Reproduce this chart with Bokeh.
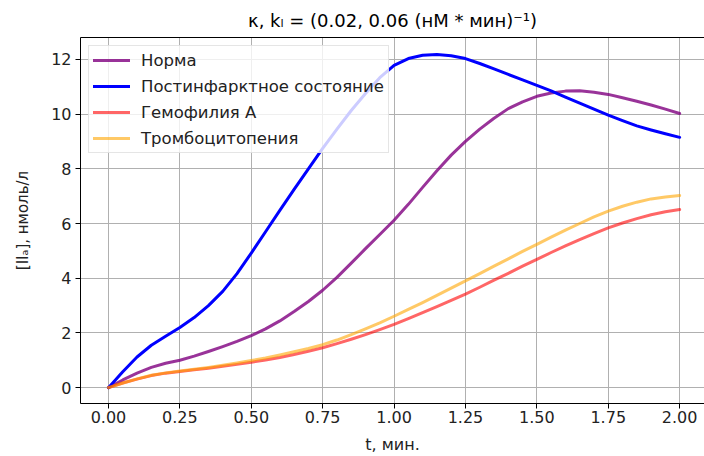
from bokeh.plotting import figure
from bokeh.models import Range1d, FixedTicker, NumeralTickFormatter, Legend, LegendItem, LinearAxis
from bokeh.embed import file_html
from bokeh.resources import INLINE

# --- data (t in minutes) ---
t = [0.0, 0.05, 0.1, 0.15, 0.2, 0.25, 0.3, 0.35, 0.4, 0.45,
     0.5, 0.55, 0.6, 0.65, 0.7, 0.75, 0.8, 0.85, 0.9, 0.95,
     1.0, 1.05, 1.1, 1.15, 1.2, 1.25, 1.3, 1.35, 1.4, 1.45,
     1.5, 1.55, 1.6, 1.65, 1.7, 1.75, 1.8, 1.85, 1.9, 1.95, 2.0]

y_norm = [0, 0.28, 0.53, 0.74, 0.89, 1.0, 1.15, 1.32, 1.5, 1.69,
          1.9, 2.15, 2.44, 2.78, 3.15, 3.56, 4.03, 4.55, 5.08, 5.6,
          6.12, 6.7, 7.32, 7.93, 8.5, 9.0, 9.45, 9.85, 10.2, 10.45,
          10.65, 10.77, 10.84, 10.85, 10.8, 10.72, 10.6, 10.47, 10.33, 10.18, 10.02]

y_post = [0, 0.58, 1.12, 1.55, 1.88, 2.2, 2.56, 3.0, 3.52, 4.17,
          4.92, 5.7, 6.48, 7.25, 8.0, 8.75, 9.45, 10.13, 10.75, 11.33,
          11.78, 12.03, 12.15, 12.18, 12.13, 12.03, 11.85, 11.65, 11.45, 11.25,
          11.05, 10.85, 10.62, 10.4, 10.18, 9.96, 9.76, 9.57, 9.42, 9.28, 9.15]

y_hemo = [0, 0.17, 0.31, 0.44, 0.53, 0.59, 0.65, 0.71, 0.78, 0.85,
          0.93, 1.01, 1.1, 1.21, 1.33, 1.46, 1.61, 1.77, 1.94, 2.12,
          2.31, 2.52, 2.74, 2.96, 3.19, 3.42, 3.67, 3.93, 4.18, 4.44,
          4.69, 4.94, 5.18, 5.41, 5.63, 5.84, 6.02, 6.18, 6.32, 6.43, 6.51]

y_thromb = [0, 0.17, 0.32, 0.45, 0.54, 0.61, 0.67, 0.74, 0.82, 0.9,
            0.99, 1.08, 1.19, 1.31, 1.43, 1.57, 1.74, 1.94, 2.15, 2.37,
            2.61, 2.86, 3.11, 3.37, 3.64, 3.9, 4.17, 4.44, 4.71, 4.98,
            5.24, 5.5, 5.76, 6.0, 6.24, 6.45, 6.63, 6.78, 6.9, 6.97, 7.02]

labels = ["Норма", "Постинфарктное состояние", "Гемофилия A", "Тромбоцитопения"]
x_ticks = [0, 0.25, 0.5, 0.75, 1.0, 1.25, 1.5, 1.75, 2.0]
y_ticks = [0, 2, 4, 6, 8, 10, 12]

FONT = "DejaVu Sans"

p = figure(width=704, height=456, output_backend="svg", toolbar_location=None,
           x_range=Range1d(-0.098, 2.087), y_range=Range1d(-0.58, 12.8),
           min_border_left=80, min_border_right=0, min_border_top=37, min_border_bottom=51,
           title="κ, kₗ = (0.02, 0.06 (нМ * мин)⁻¹)")
p.title.align = "center"
p.title.text_font = FONT
p.title.text_font_size = "18px"
p.title.text_font_style = "normal"
p.title.text_color = "#000000"
p.title.standoff = 13
p.outline_line_color = None

for ax in (p.xaxis[0], p.yaxis[0]):
    ax.axis_line_color = "black"
    ax.axis_line_width = 1
    ax.major_tick_line_color = "black"
    ax.major_tick_out = 5
    ax.major_tick_in = 0
    ax.minor_tick_line_color = None
    ax.major_label_text_font = FONT
    ax.major_label_text_font_size = "16px"
    ax.major_label_text_color = "#222222"
    ax.axis_label_text_font = FONT
    ax.axis_label_text_font_size = "16px"
    ax.axis_label_text_font_style = "normal"
    ax.axis_label_text_color = "#222222"

p.xaxis.major_label_standoff = 2
p.xaxis.axis_label_standoff = 9
p.yaxis.major_label_standoff = 4
p.yaxis.axis_label_standoff = 16
p.yaxis.axis_label_text_font_size = "15px"

p.xaxis.ticker = FixedTicker(ticks=x_ticks)
p.xaxis.formatter = NumeralTickFormatter(format="0.00")
p.yaxis.ticker = FixedTicker(ticks=y_ticks)
p.yaxis.formatter = NumeralTickFormatter(format="0")
p.xaxis.axis_label = "t, мин."
p.yaxis.axis_label = "[IIₐ], нмоль/л"

top = LinearAxis(ticker=FixedTicker(ticks=[]), axis_line_color="black", axis_line_width=1,
                 major_tick_line_color=None, minor_tick_line_color=None,
                 major_label_text_font_size="0px")
p.add_layout(top, "above")

p.xgrid.ticker = FixedTicker(ticks=x_ticks)
p.ygrid.ticker = FixedTicker(ticks=y_ticks)
for g in (p.xgrid[0], p.ygrid[0]):
    g.grid_line_color = "#b0b0b0"
    g.grid_line_width = 1

common = dict(line_width=3, line_join="round", line_cap="round")
r1 = p.line(t, y_norm, line_color="#800080", line_alpha=0.8, **common)
r2 = p.line(t, y_post, line_color="#0000ff", line_alpha=1.0, **common)
r3 = p.line(t, y_hemo, line_color="#ff0000", line_alpha=0.6, **common)
r4 = p.line(t, y_thromb, line_color="#ffa500", line_alpha=0.6, **common)

legend = Legend(items=[LegendItem(label=labels[0], renderers=[r1]),
                       LegendItem(label=labels[1], renderers=[r2]),
                       LegendItem(label=labels[2], renderers=[r3]),
                       LegendItem(label=labels[3], renderers=[r4])],
                location="top_left", margin=8, padding=4, spacing=6,
                glyph_width=37, glyph_height=20, label_standoff=11,
                label_text_font=FONT, label_text_font_size="16.5px", label_text_color="#222222",
                label_height=20,
                background_fill_alpha=0.8, border_line_color="#cccccc", border_line_width=1)
p.add_layout(legend, "center")

open("out.html", "w").write(file_html(p, INLINE))
